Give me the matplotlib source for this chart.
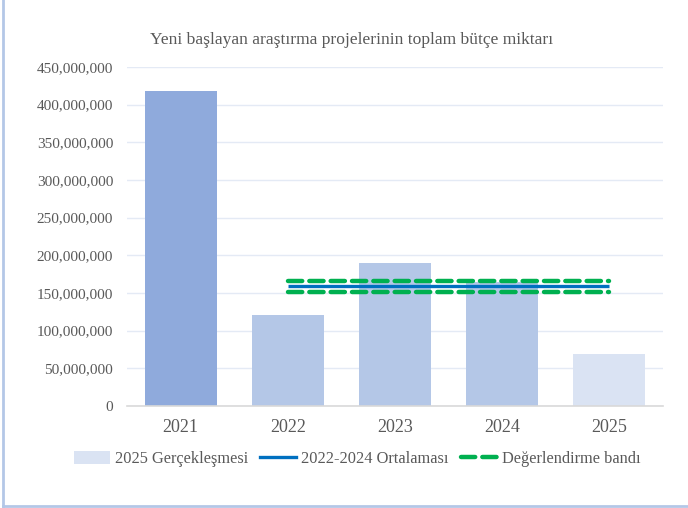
import matplotlib
matplotlib.use("Agg")
import matplotlib.pyplot as plt
from matplotlib.ticker import FuncFormatter
from matplotlib.patches import Patch
from matplotlib.lines import Line2D
import numpy as np

years = ["2021", "2022", "2023", "2024", "2025"]
budgets = [418e6, 121e6, 190e6, 164e6, 69e6]
bar_colors = ["#8faadc", "#b4c7e7", "#b4c7e7", "#b4c7e7", "#dae3f3"]

avg_span = ["2022", "2025"]
avg_value = 159e6
band_upper = 166.5e6
band_lower = 151e6

title = "Yeni başlayan araştırma projelerinin toplam bütçe miktarı"
legend_labels = ["2025 Gerçekleşmesi", "2022-2024 Ortalaması", "Değerlendirme bandı"]

plt.rcParams["font.family"] = ["Liberation Serif", "DejaVu Serif"]
text_color = "#595959"

fig = plt.figure(figsize=(6.88, 5.08), dpi=100)
ax = fig.add_axes([127/688, 1-406/508, (663-127)/688, (406-67)/508])

x = np.arange(len(years))
ax.bar(x, budgets, width=0.67, color=bar_colors, zorder=2)

xs = [years.index(y) for y in avg_span]
ax.plot(xs, [avg_value]*2, color="#0070c0", lw=2.4, zorder=3, solid_capstyle="butt")
for v in (band_upper, band_lower):
    ax.plot(xs, [v]*2, color="#00b050", lw=3.2, zorder=3,
            linestyle=(0, (3.2, 1.6)), dash_capstyle="round")

ax.set_xlim(-0.5, len(years)-0.5)
ax.set_ylim(0, 450e6)
ax.set_yticks(np.arange(0, 450e6+1, 50e6))
ax.yaxis.set_major_formatter(FuncFormatter(lambda v, p: f"{int(v):,}"))
ax.set_xticks(x)
ax.set_xticklabels(years)
ax.grid(axis="y", color="#e4eaf5", lw=1, zorder=0)
for s in ["top", "right", "left"]:
    ax.spines[s].set_visible(False)
ax.spines["bottom"].set_color("#d9d9d9")
ax.spines["bottom"].set_linewidth(1.2)
ax.tick_params(axis="y", length=0, labelsize=11, colors=text_color, pad=10)
ax.tick_params(axis="x", length=0, labelsize=13, colors=text_color, pad=9)

fig.text(352/688, 1-40/508, title, ha="center", va="center", fontsize=12.6, color=text_color)

handles = [
    Patch(facecolor="#dae3f3", edgecolor="none"),
    Line2D([0], [0], color="#0070c0", lw=2.4),
    Line2D([0], [0], color="#00b050", lw=3.2, linestyle=(0, (3.2, 1.6)), dash_capstyle="round"),
]
leg = fig.legend(handles, legend_labels, loc="center", bbox_to_anchor=(357/688, 1-459/508),
                 ncol=3, frameon=False, fontsize=11.8, handlelength=2.2, handletextpad=0.3,
                 columnspacing=0.75, labelcolor=text_color, handleheight=0.9)

border = "#b4c7e7"
fig.add_artist(Line2D([3/688, 3/688], [2/508, 1], transform=fig.transFigure, color=border, lw=2))
fig.add_artist(Line2D([3/688, 1], [2/508, 2/508], transform=fig.transFigure, color=border, lw=2))

fig.savefig("out.png", dpi=100)
